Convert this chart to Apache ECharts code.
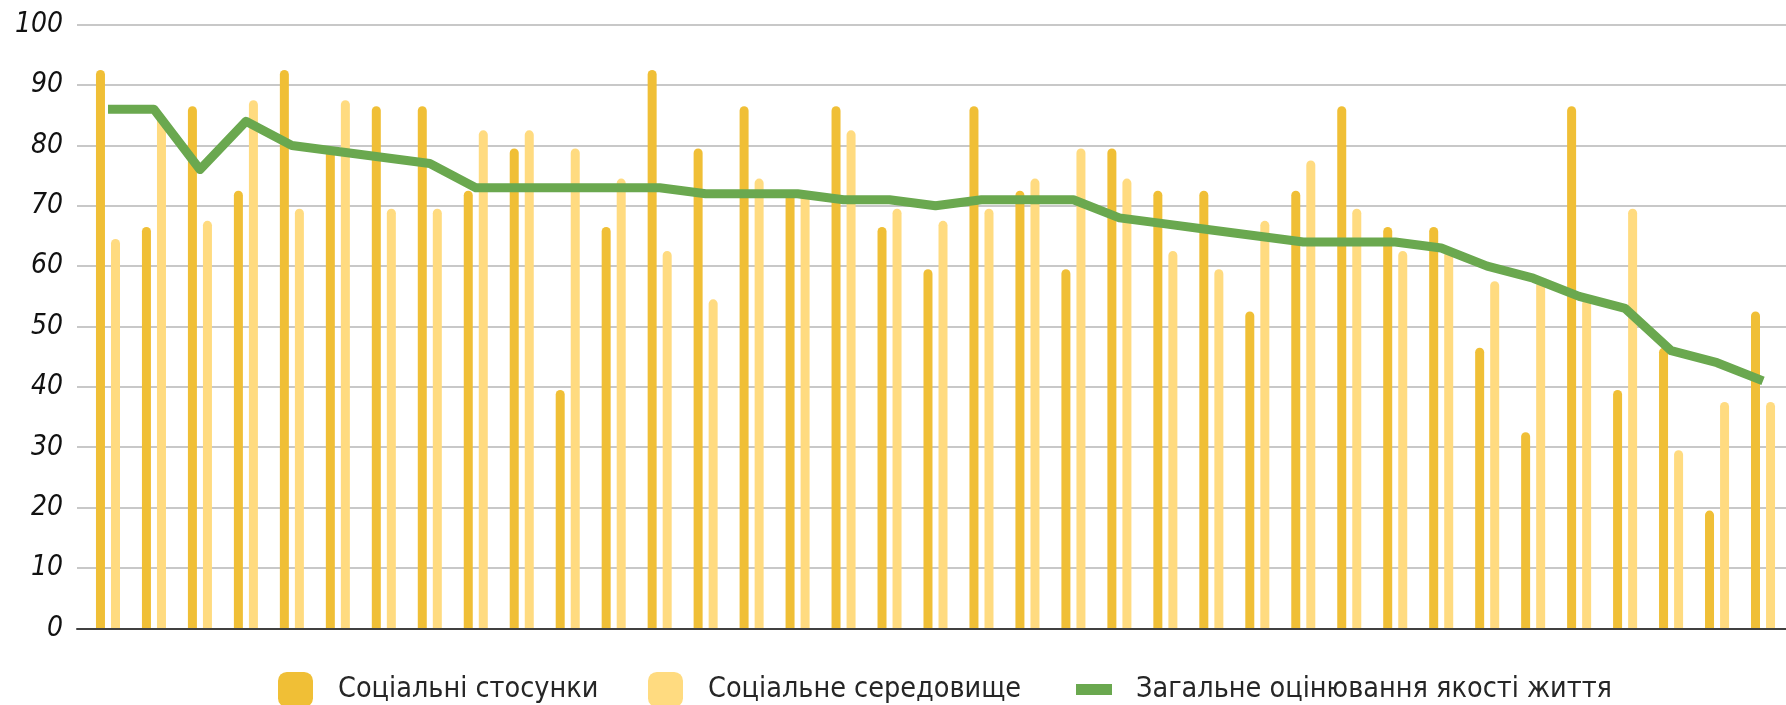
<!DOCTYPE html>
<html>
<head>
<meta charset="utf-8">
<script src="https://cdn.jsdelivr.net/npm/echarts@6/dist/echarts.min.js"></script>
<style>
html,body{margin:0;padding:0;background:#fff;}
#chart{width:1786px;height:705px;}
</style>
</head>
<body>
<div id="chart"></div>
<script>
// ---- data ----
const categories = ['1','2','3','4','5','6','7','8','9','10','11','12','13','14','15','16','17','18','19','20','21','22','23','24','25','26','27','28','29','30','31','32','33','34','35','36','37'];
const socialRelations = [92.5, 66.5, 86.5, 72.5, 92.5, 79.5, 86.5, 86.5, 72.5, 79.5, 39.5, 66.5, 92.5, 79.5, 86.5, 72.5, 86.5, 66.5, 59.5, 86.5, 72.5, 59.5, 79.5, 72.5, 72.5, 52.5, 72.5, 86.5, 66.5, 66.5, 46.5, 32.5, 86.5, 39.5, 46.5, 19.5, 52.5];
const socialEnvironment = [64.5, 85, 67.5, 87.5, 69.5, 87.5, 69.5, 69.5, 82.5, 82.5, 79.5, 74.5, 62.5, 54.5, 74.5, 72.5, 82.5, 69.5, 67.5, 69.5, 74.5, 79.5, 74.5, 62.5, 59.5, 67.5, 77.5, 69.5, 62.5, 62.5, 57.5, 57.5, 54.5, 69.5, 29.5, 37.5, 37.5];
const overallQuality = [86, 86, 76, 84, 80, 79, 78, 77, 73, 73, 73, 73, 73, 72, 72, 72, 71, 71, 70, 71, 71, 71, 68, 67, 66, 65, 64, 64, 64, 63, 60, 58, 55, 53, 46, 44, 41];
const seriesNames = ['Соціальні стосунки', 'Соціальне середовище', 'Загальне оцінювання якості життя'];
const yTicks = {min: 0, max: 100, interval: 10};

const FONT = "'DejaVu Sans Condensed', 'DejaVu Sans', sans-serif";
const C_DARK = '#F0BF36', C_LIGHT = '#FFDB80', C_GREEN = '#6AA84F';
const legendText = {fontFamily: FONT, fontSize: 28.5, color: '#262626', padding: [0,0,0,20]};

const chart = echarts.init(document.getElementById('chart'), null, {renderer: 'canvas'});
chart.setOption({
  animation: false,
  backgroundColor: '#ffffff',
  grid: [
    {left: 85, right: -3, top: 24.7, bottom: 76.7},
    {left: 77, right: 0, top: 24.7, bottom: 76.7}
  ],
  xAxis: [
    {type: 'category', gridIndex: 0, data: categories, show: false},
    {type: 'category', gridIndex: 1, data: categories, z: 10,
     axisLine: {show: true, lineStyle: {color: '#404040', width: 2}},
     axisTick: {show: false}, axisLabel: {show: false}, splitLine: {show: false}}
  ],
  yAxis: [
    {type: 'value', gridIndex: 0, min: yTicks.min, max: yTicks.max, interval: yTicks.interval, show: false},
    {type: 'value', gridIndex: 1, min: yTicks.min, max: yTicks.max, interval: yTicks.interval,
     axisLine: {show: false}, axisTick: {show: false},
     axisLabel: {margin: 14, fontFamily: FONT, fontSize: 28, fontStyle: 'italic', color: '#111'},
     splitLine: {show: true, lineStyle: {color: '#c8c8c8', width: 2}}}
  ],
  legend: [
    {data: [seriesNames[0]], left: 278, top: 672, padding: 0, itemWidth: 35, itemHeight: 35, icon: 'roundRect',
     textStyle: legendText},
    {data: [seriesNames[1]], left: 648, top: 672, padding: 0, itemWidth: 35, itemHeight: 35, icon: 'roundRect',
     textStyle: legendText},
    {data: [seriesNames[2]], left: 1076, top: 675, padding: 0, itemWidth: 36, itemHeight: 11, icon: 'rect',
     textStyle: Object.assign({}, legendText, {padding: [0,0,0,19]})}
  ],
  series: [
    {name: seriesNames[0], type: 'bar', xAxisIndex: 0, yAxisIndex: 0, data: socialRelations,
     barWidth: 9, barGap: '67%', itemStyle: {color: C_DARK, borderRadius: [4.5,4.5,0,0]}},
    {name: seriesNames[1], type: 'bar', xAxisIndex: 0, yAxisIndex: 0, data: socialEnvironment,
     barWidth: 9, barGap: '67%', itemStyle: {color: C_LIGHT, borderRadius: [4.5,4.5,0,0]}},
    {name: seriesNames[2], type: 'line', xAxisIndex: 0, yAxisIndex: 0, data: overallQuality,
     symbol: 'none', z: 5, itemStyle: {color: C_GREEN},
     lineStyle: {color: C_GREEN, width: 9, join: 'round', cap: 'butt'}}
  ]
});
</script>
</body>
</html>
